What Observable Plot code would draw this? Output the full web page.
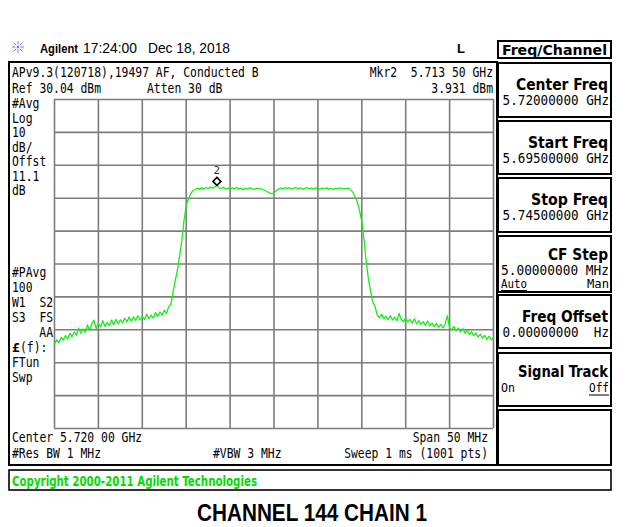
<!DOCTYPE html>
<html><head><meta charset="utf-8">
<script src="https://cdn.jsdelivr.net/npm/d3@7"></script>
<script src="https://cdn.jsdelivr.net/npm/@observablehq/plot@0.6"></script>
<style>
body{margin:0;background:#fff;}
#chart{position:relative;width:629px;height:527px;overflow:hidden;}
</style></head><body><div id="chart"></div>
<script>
// ---- sweep settings ----
const startGHz = 5.695;
const stopGHz = 5.745;
const stepMHz = 0.25;           // spacing of the values below
const refLevelDbm = 30.04;
const bottomLevelDbm = -69.96;  // 10 dB/div, 10 divisions

// grid divisions (5 MHz / 10 dB)
const freqGrid = [5.695, 5.700, 5.705, 5.710, 5.715, 5.720, 5.725, 5.730, 5.735, 5.740, 5.745];
const levelGrid = [30.04, 20.04, 10.04, 0.04, -9.96, -19.96, -29.96, -39.96, -49.96, -59.96, -69.96];

// trace level (dBm), one value every 0.25 MHz from 5.695 GHz
const levelsDbm = [
 -44.3,-43.0,-43.9,-42.2,-43.1,-41.7,-42.8,-41.0,-42.1,-40.6,
 -41.6,-39.4,-41.0,-39.7,-40.7,-38.5,-40.0,-38.1,-37.0,-39.6,
 -38.0,-39.1,-37.2,-38.9,-37.7,-38.7,-37.0,-38.4,-36.8,-38.1,
 -36.9,-37.9,-36.4,-37.6,-36.1,-37.4,-36.0,-37.1,-35.7,-37.0,
 -35.9,-36.8,-35.2,-36.6,-35.5,-36.4,-34.7,-35.9,-34.5,-35.5,
 -34.0,-35.0,-33.0,-32.2,
 -28.5,-25.0,-21.8,-17.5,-12.8,-6.8,-2.2,-0.2,1.3,2.3,
 2.7,3.1,2.8,3.2,2.9,3.3,3.0,3.4,3.1,3.5,
 3.93,3.2,3.0,3.4,2.8,3.1,2.7,3.2,2.9,3.3,
 2.8,3.1,2.6,3.0,2.8,3.2,2.9,2.7,3.1,2.8,
 3.0,2.6,2.4,2.0,1.6,1.4,1.7,2.3,2.8,3.1,
 2.9,3.3,3.0,3.2,2.8,3.1,3.3,2.9,3.2,2.7,
 3.0,3.3,2.9,3.1,2.8,3.2,3.0,2.7,3.1,2.9,
 3.2,2.8,3.0,2.7,3.1,2.9,3.2,2.8,3.0,2.9,
 3.1,2.5,
 1.8,0.3,-1.2,-3.8,-7.0,-12.5,-19.0,-24.5,-28.2,-31.6,-32.8,-35.4,
 -36.3,-35.2,-36.6,-35.8,-36.9,-35.6,-37.0,-36.1,-37.2,-35.0,
 -36.9,-37.5,-36.4,-37.6,-36.8,-38.0,-36.6,-38.2,-37.2,-38.4,
 -37.5,-38.6,-37.3,-38.8,-37.9,-39.0,-38.0,-39.2,-38.3,-39.4,
 -38.2,-35.7,-39.3,-40.0,-38.9,-40.3,-39.4,-40.6,-39.6,-41.0,
 -40.1,-41.4,-40.5,-41.7,-40.9,-42.2,-41.3,-42.5,-41.7,-42.9,
 -41.9,-43.0,-42.3
];

// marker 2
const markers = [{freq: 5.7135, level: 3.931, label: "2"}];

// on-screen annotation text
const headerTexts = {brand: "Agilent", time: "17:24:00", date: "Dec 18, 2018", mode: "L"};
const topLines = ["APv9.3(120718),19497 AF, Conducted B", "Ref 30.04 dBm"];
const attenText = "Atten 30 dB";
const markerLines = ["Mkr2  5.713 50 GHz", "3.931 dBm"];
const leftTop = ["#Avg", "Log", "10", "dB/", "Offst", "11.1", "dB"];
const leftBottom = ["#PAvg", "100", "W1  S2", "S3  FS", "AA", "£(f):", "FTun", "Swp"];
const bottomLeft = ["Center 5.720 00 GHz", "#Res BW 1 MHz"];
const bottomMid = "#VBW 3 MHz";
const bottomRight = ["Span 50 MHz", "Sweep 1 ms (1001 pts)"];
const copyright = "Copyright 2000-2011 Agilent Technologies";
const caption = "CHANNEL 144 CHAIN 1";
const menuTitle = "Freq/Channel";
const softkeys = [
  {label: "Center Freq", value: "5.72000000 GHz"},
  {label: "Start Freq", value: "5.69500000 GHz"},
  {label: "Stop Freq", value: "5.74500000 GHz"},
  {label: "CF Step", value: "5.00000000 MHz", left: "Auto", right: "Man", under: "left"},
  {label: "Freq Offset", value: "0.00000000  Hz"},
  {label: "Signal Track", left: "On", right: "Off", under: "right"},
  {label: ""}
];

// ---- build data ----
const trace = levelsDbm.map((v, i) => ({freq: startGHz + i * stepMHz / 1000, level: v}));

const MONO = "'DejaVu Sans Mono', 'Liberation Mono', monospace";
const SANS = "'Liberation Sans', Arial, sans-serif";
const COND = "'DejaVu Sans Condensed', 'DejaVu Sans', sans-serif";

const plot = Plot.plot({
  width: 629,
  height: 527,
  marginLeft: 54,
  marginRight: 136,
  marginTop: 99,
  marginBottom: 99,
  x: {domain: [startGHz, stopGHz], axis: null},
  y: {domain: [bottomLevelDbm, refLevelDbm], axis: null},
  style: {background: "#fff", overflow: "visible"},
  marks: [
    Plot.gridX(freqGrid, {stroke: "#7d7d7d", strokeOpacity: 1, strokeWidth: 1.6}),
    Plot.gridY(levelGrid, {stroke: "#7d7d7d", strokeOpacity: 1, strokeWidth: 1.6}),
    Plot.line(trace, {x: "freq", y: "level", stroke: "#14f014", strokeWidth: 1.3}),
    Plot.dot(markers, {x: "freq", y: "level", symbol: "diamond2", r: 3.6, dy: -4, stroke: "#000", fill: "#fff", strokeWidth: 1.6}),
    Plot.text(markers, {x: "freq", y: "level", text: "label", dy: -15, fontSize: 11, fontFamily: MONO, fill: "#333"})
  ]
});
document.getElementById("chart").appendChild(plot);

// ---- instrument chrome ----
const svg = d3.select(plot);
const g = svg.append("g");

function box(x, y, w, h, sw = 2) {
  g.append("rect").attr("x", x).attr("y", y).attr("width", w).attr("height", h)
    .attr("fill", "none").attr("stroke", "#000").attr("stroke-width", sw);
}
function txt(x, y, s, o = {}) {
  const t = g.append("text").attr("x", x).attr("y", y).text(s)
    .attr("font-family", o.family || MONO)
    .attr("font-size", o.size || 13.3)
    .attr("font-weight", o.weight || "normal")
    .attr("fill", o.fill || "#000")
    .attr("text-anchor", o.anchor || "start")
    .style("white-space", "pre");
  if (o.len) t.attr("textLength", o.len).attr("lengthAdjust", "spacingAndGlyphs");
  return t;
}
const CW = 6.85; // screen char width

// header
const sun = g.append("g").attr("transform", "translate(18,47)").attr("stroke", "#6a78ff").attr("stroke-width", 1);
for (let k = 0; k < 8; k++) {
  const a = k * Math.PI / 4;
  sun.append("line").attr("x1", 2.5 * Math.cos(a)).attr("y1", 2.5 * Math.sin(a)).attr("x2", 6 * Math.cos(a)).attr("y2", 6 * Math.sin(a));
}
sun.append("circle").attr("r", 1.3).attr("fill", "#6a78ff").attr("stroke", "none");
txt(40, 53, headerTexts.brand, {family: SANS, weight: "bold", size: 13, len: 38});
txt(83, 53, headerTexts.time, {family: SANS, size: 14, len: 54});
txt(148, 53, headerTexts.date, {family: SANS, size: 14, len: 82});
txt(457, 53, headerTexts.mode, {family: SANS, weight: "bold", size: 13});

// screen frame
box(9, 62, 488, 403, 2);
// softkey column
box(498, 41, 113, 17, 2);
txt(502, 55, menuTitle, {family: COND, weight: "bold", size: 14.5, len: 105});
const skTops = [63, 121, 178, 236, 295, 353, 410];
const skH = [54, 53, 54, 56, 53, 53, 55];
const skLabelW = [92, 80, 77, 60, 86, 90, 0];
softkeys.forEach((k, i) => {
  const y0 = skTops[i];
  box(498, y0, 113, skH[i], 2);
  if (!k.label) return;
  if (k.left && k.value) {
    txt(608, y0 + 24, k.label, {family: COND, weight: "bold", size: 15, anchor: "end", len: skLabelW[i]});
    txt(609, y0 + 39, k.value, {anchor: "end", len: 108});
    txt(501, y0 + 52, k.left, {size: 12, len: 26});
    txt(609, y0 + 52, k.right, {size: 12, anchor: "end", len: 22});
    g.append("line").attr("x1", 501).attr("x2", 527).attr("y1", y0 + 54.5).attr("y2", y0 + 54.5).attr("stroke", "#000");
  } else if (k.left) {
    txt(608, y0 + 24, k.label, {family: COND, weight: "bold", size: 15, anchor: "end", len: skLabelW[i]});
    txt(501, y0 + 39, k.left, {size: 12, len: 14});
    txt(609, y0 + 39, k.right, {size: 12, anchor: "end", len: 20});
    g.append("line").attr("x1", 589).attr("x2", 609).attr("y1", y0 + 42).attr("y2", y0 + 42).attr("stroke", "#000");
  } else {
    txt(608, y0 + 27, k.label, {family: COND, weight: "bold", size: 15, anchor: "end", len: skLabelW[i]});
    txt(609, y0 + 42, k.value, {anchor: "end", len: k.value.length * 7.6});
  }
});

// screen annotations
txt(12, 77, topLines[0], {len: topLines[0].length * CW});
txt(12, 93, topLines[1], {len: topLines[1].length * CW});
txt(147, 93, attenText, {len: attenText.length * CW});
txt(493, 77, markerLines[0], {anchor: "end", len: markerLines[0].length * CW});
txt(493, 93, markerLines[1], {anchor: "end", len: markerLines[1].length * CW});
leftTop.forEach((s, i) => txt(12, 108 + i * 14.5, s, {len: s.length * CW}));
leftBottom.forEach((s, i) => {
  const y = 277 + i * 15;
  if (s === "AA") txt(53, y, s, {anchor: "end", len: s.length * CW});
  else if (s.startsWith("£")) { txt(12, y, "£", {weight: "bold", size: 13}); txt(20, y, s.slice(1), {len: (s.length - 1) * CW}); }
  else txt(12, y, s, {len: s.length * CW});
});
txt(12, 442, bottomLeft[0], {len: bottomLeft[0].length * CW});
txt(12, 458, bottomLeft[1], {len: bottomLeft[1].length * CW});
txt(213, 458, bottomMid, {len: bottomMid.length * CW});
txt(488, 442, bottomRight[0], {anchor: "end", len: bottomRight[0].length * CW});
txt(488, 458, bottomRight[1], {anchor: "end", len: bottomRight[1].length * CW});

// copyright bar
box(9, 470, 602, 20, 1.6);
txt(12, 486, copyright, {family: COND, weight: "bold", size: 14, fill: "#00dc00", len: 245});

// caption
txt(312, 521, caption, {family: SANS, weight: "bold", size: 24, anchor: "middle", len: 230});
</script>
</body></html>
